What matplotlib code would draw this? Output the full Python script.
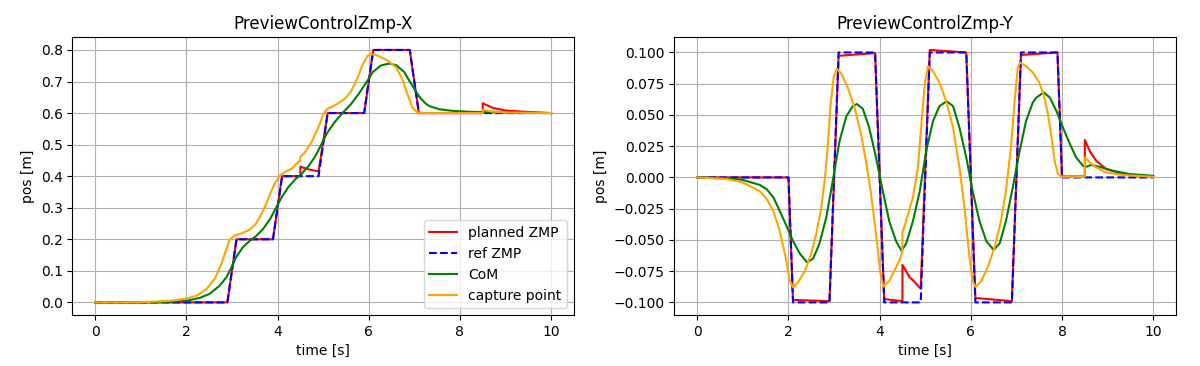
import matplotlib
matplotlib.use("Agg")
import matplotlib.pyplot as plt

# ---- X direction ----
ref_x_t = [0, 2.9, 3.1, 3.9, 4.1, 4.9, 5.1, 5.9, 6.1, 6.9, 7.1, 10]
ref_x = [0, 0, 0.2, 0.2, 0.4, 0.4, 0.6, 0.6, 0.8, 0.8, 0.6, 0.6]

plan_x_t = [0, 2.9, 3.1, 3.9, 4.1, 4.5, 4.5, 4.7, 4.9, 5.1, 5.9, 6.1, 6.9, 7.1,
            8.5, 8.5, 8.73, 9.0, 9.44, 10]
plan_x = [0, 0, 0.2, 0.2, 0.4, 0.4, 0.43, 0.421, 0.415, 0.6, 0.6, 0.8, 0.8, 0.6,
          0.6, 0.631, 0.616, 0.608, 0.604, 0.6]

com_x_t = [0, 1.0, 1.6, 2.0, 2.29, 2.51, 2.73, 2.88, 2.99, 3.09, 3.24, 3.39, 3.53,
           3.68, 3.84, 3.95, 4.09, 4.24, 4.39, 4.53, 4.68, 4.82, 4.97, 5.08, 5.23,
           5.41, 5.61, 5.8, 5.96, 6.09, 6.27, 6.45, 6.6, 6.78, 6.9, 7.0, 7.08,
           7.15, 7.25, 7.33, 7.55, 7.84, 8.2, 8.5, 8.6, 9.0, 10]
com_x = [0, 0, 0.002, 0.005, 0.014, 0.027, 0.053, 0.08, 0.111, 0.143, 0.175, 0.195,
         0.21, 0.232, 0.265, 0.295, 0.333, 0.366, 0.39, 0.408, 0.432, 0.461, 0.503,
         0.535, 0.567, 0.598, 0.628, 0.665, 0.70, 0.73, 0.751, 0.757, 0.752, 0.73,
         0.70, 0.677, 0.658, 0.645, 0.63, 0.622, 0.612, 0.607, 0.604, 0.603, 0.604,
         0.602, 0.6]

cp_x_t = [0, 1.0, 1.64, 2.0, 2.22, 2.44, 2.62, 2.77, 2.88, 2.95, 3.06, 3.2, 3.39,
          3.53, 3.63, 3.73, 3.84, 3.95, 4.06, 4.17, 4.31, 4.42, 4.495, 4.5, 4.61,
          4.75, 4.9, 5.01, 5.08, 5.25, 5.47, 5.61, 5.76, 5.87, 5.98, 6.05, 6.2,
          6.42, 6.6, 6.74, 6.85, 6.96, 7.07, 7.15, 8.5, 8.5, 8.7, 9.0, 10]
cp_x = [0, 0.0005, 0.005, 0.012, 0.021, 0.042, 0.074, 0.122, 0.17, 0.198, 0.212,
        0.218, 0.23, 0.25, 0.275, 0.305, 0.345, 0.38, 0.403, 0.414, 0.424, 0.44,
        0.45, 0.461, 0.477, 0.509, 0.556, 0.598, 0.612, 0.624, 0.644, 0.668, 0.713,
        0.755, 0.782, 0.787, 0.782, 0.766, 0.745, 0.707, 0.66, 0.617, 0.602,
        0.6, 0.6, 0.61, 0.605, 0.602, 0.6]

# ---- Y direction ----
ref_y_t = [0, 2.0, 2.1, 2.9, 3.1, 3.9, 4.1, 4.9, 5.1, 5.9, 6.1, 6.9, 7.1, 7.9, 8.0, 10]
ref_y = [0, 0, -0.1, -0.1, 0.1, 0.1, -0.1, -0.1, 0.1, 0.1, -0.1, -0.1, 0.1, 0.1, 0, 0]

plan_y_t = [0, 2.0, 2.1, 2.9, 3.1, 3.9, 4.1, 4.5, 4.5, 4.66, 4.75, 4.9, 5.1, 5.9,
            6.1, 6.9, 7.1, 7.9, 8.0, 8.5, 8.5, 8.61, 8.75, 8.97, 9.26, 9.63, 10]
plan_y = [0, 0, -0.098, -0.099, 0.0973, 0.0995, -0.0973, -0.099, -0.070, -0.080,
          -0.083, -0.089, 0.102, 0.100, -0.0965, -0.099, 0.098, 0.1, 0.0008, 0.0008,
          0.030, 0.021, 0.0133, 0.0067, 0.0035, 0.0016, 0.0008]

com_y_t = [0, 0.64, 1.0, 1.37, 1.52, 1.67, 1.81, 1.96, 2.1, 2.25, 2.41, 2.54, 2.68,
           2.83, 2.97, 3.12, 3.27, 3.41, 3.5, 3.63, 3.77, 3.92, 4.07, 4.21, 4.36,
           4.48, 4.58, 4.73, 4.88, 5.02, 5.17, 5.31, 5.47, 5.61, 5.75, 5.9, 6.04,
           6.19, 6.34, 6.5, 6.63, 6.77, 6.92, 7.07, 7.21, 7.36, 7.44, 7.6, 7.73,
           7.88, 8.02, 8.17, 8.31, 8.46, 8.53, 8.64, 8.82, 9.12, 9.48, 10]
com_y = [0, -0.0005, -0.002, -0.006, -0.0093, -0.016, -0.027, -0.039, -0.051, -0.061,
         -0.068, -0.065, -0.053, -0.032, -0.003, 0.029, 0.049, 0.057, 0.0587, 0.055,
         0.04, 0.016, -0.011, -0.035, -0.051, -0.0587, -0.053, -0.035, -0.011, 0.021,
         0.045, 0.057, 0.061, 0.057, 0.04, 0.016, -0.011, -0.035, -0.051, -0.058,
         -0.053, -0.035, -0.008, 0.021, 0.045, 0.06, 0.064, 0.068, 0.064, 0.053, 0.04,
         0.027, 0.016, 0.0093, 0.0085, 0.010, 0.0085, 0.0053, 0.0027, 0.0013]

cp_y_t = [0, 0.64, 1.0, 1.37, 1.52, 1.67, 1.81, 1.92, 2.03, 2.1, 2.21, 2.36, 2.5,
          2.61, 2.72, 2.81, 2.87, 2.92, 2.99, 3.06, 3.16, 3.3, 3.45, 3.59, 3.7, 3.81,
          3.92, 4.01, 4.08, 4.21, 4.36, 4.44, 4.495, 4.5, 4.58, 4.73, 4.84, 4.91,
          4.99, 5.06, 5.17, 5.31, 5.46, 5.61, 5.75, 5.86, 5.97, 6.04, 6.1, 6.23,
          6.37, 6.52, 6.66, 6.77, 6.88, 6.96, 7.03, 7.08, 7.21, 7.36, 7.5, 7.6,
          7.69, 7.77, 7.84, 7.91, 7.99, 8.5, 8.5, 8.61, 8.75, 8.97, 9.34, 10]
cp_y = [0, -0.0013, -0.004, -0.011, -0.017, -0.027, -0.043, -0.061, -0.083, -0.088,
        -0.084, -0.075, -0.061, -0.045, -0.024, 0.003, 0.029, 0.056, 0.08, 0.087,
        0.083, 0.072, 0.056, 0.035, 0.013, -0.013, -0.045, -0.075, -0.0875, -0.083,
        -0.072, -0.066, -0.06, -0.044, -0.035, -0.016, 0.008, 0.04, 0.075, 0.089,
        0.085, 0.076, 0.061, 0.04, 0.008, -0.024, -0.064, -0.083, -0.0875, -0.083,
        -0.072, -0.056, -0.035, -0.011, 0.024, 0.061, 0.088, 0.092, 0.089, 0.084,
        0.076, 0.066, 0.051, 0.032, 0.013, 0.003, 0.0005, 0.0005, 0.016, 0.012,
        0.008, 0.004, 0.0019, 0.0005]

fig, axes = plt.subplots(1, 2, figsize=(12, 3.66), dpi=100)
fig.subplots_adjust(left=0.0603, right=0.98, bottom=0.1393, top=0.898, wspace=0.2006)

ax = axes[0]
ax.plot(plan_x_t, plan_x, color="red", label="planned ZMP")
ax.plot(ref_x_t, ref_x, "b--", label="ref ZMP")
ax.plot(com_x_t, com_x, color="green", label="CoM")
ax.plot(cp_x_t, cp_x, color="orange", label="capture point")
ax.set_title("PreviewControlZmp-X")
ax.set_xlabel("time [s]")
ax.set_ylabel("pos [m]")
ax.grid(True)
ax.legend(loc="lower right")

ax = axes[1]
ax.plot(plan_y_t, plan_y, color="red", label="planned ZMP")
ax.plot(ref_y_t, ref_y, "b--", label="ref ZMP")
ax.plot(com_y_t, com_y, color="green", label="CoM")
ax.plot(cp_y_t, cp_y, color="orange", label="capture point")
ax.set_title("PreviewControlZmp-Y")
ax.set_xlabel("time [s]")
ax.set_ylabel("pos [m]")
ax.grid(True)

plt.savefig("out.png")
